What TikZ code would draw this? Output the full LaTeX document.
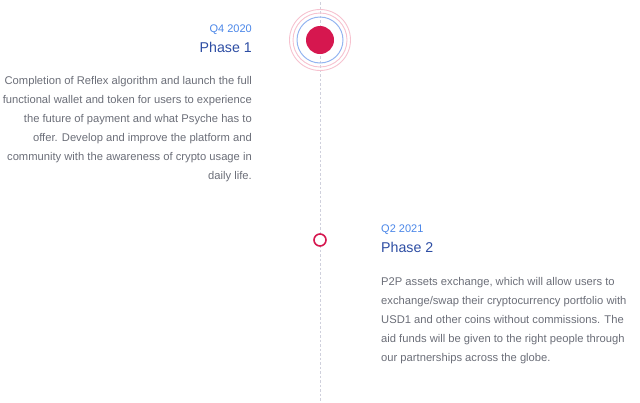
\documentclass[tikz,border=0pt]{standalone}
\usepackage{fontspec}
\setmainfont{Liberation Sans}
\definecolor{dotred}{HTML}{D6174F}
\definecolor{ringblue}{HTML}{94B4F0}
\definecolor{ringpink}{HTML}{F6C2CF}
\definecolor{datecol}{HTML}{4A86E8}
\definecolor{phasecol}{HTML}{2D4DA3}
\definecolor{bodycol}{HTML}{6B6E78}
\definecolor{linecol}{HTML}{CFD0DC}

\begin{document}
\begin{tikzpicture}[
    x = 1pt, y = -1pt,
    date/.style = {inner sep = 0, text = datecol, font = \fontsize{11}{13}\selectfont},
    phase/.style = {inner sep = 0, text = phasecol, font = \fontsize{14.2}{17}\selectfont},
    body/.style = {inner sep = 0, text = bodycol, font = \fontsize{11.2}{19}\selectfont}]

\useasboundingbox (0,0) rectangle (640,402);

% timeline
\coordinate (top) at (320,2);
\coordinate (bottom) at (320,402);
\draw[linecol, line width = 1pt, dash pattern = on 2.5pt off 2pt] (top) -- (bottom);

% first marker
\coordinate (m1) at (320,40);
\draw[ringpink, line width = 0.9pt] (m1) circle [radius = 30.5]
      (m1) circle [radius = 27];
\draw[ringblue, line width = 1pt] (m1) circle [radius = 23];
\fill[dotred] (m1) circle [radius = 14];

% second marker
\draw[dotred, fill = white, line width = 1.6pt] (320,240) circle [radius = 6] node (m2) {};

% phase 1
\path (252,32) node[date, anchor = base east] (d1) {Q4 2020}
      (252,52) node[phase, anchor = base east] (p1) {Phase 1}
      (252,76.5) node[body, anchor = north east, align = right] (t1)
        {Completion of Reflex algorithm and launch the full\\
         functional wallet and token for users to experience\\
         the future of payment and what Psyche has to\\
         offer. Develop and improve the platform and\\
         community with the awareness of crypto usage in\\
         daily life.}
      ;

% phase 2
\path (381,232) node[date, anchor = base west] (d2) {Q2 2021}
      (381,252) node[phase, anchor = base west] (p2) {Phase 2}
      (381,277.5) node[body, anchor = north west, align = left] (t2)
        {P2P assets exchange, which will allow users to\\
         exchange/swap their cryptocurrency portfolio with\\
         USD1 and other coins without commissions. The\\
         aid funds will be given to the right people through\\
         our partnerships across the globe.}
      ;
\end{tikzpicture}
\end{document}
